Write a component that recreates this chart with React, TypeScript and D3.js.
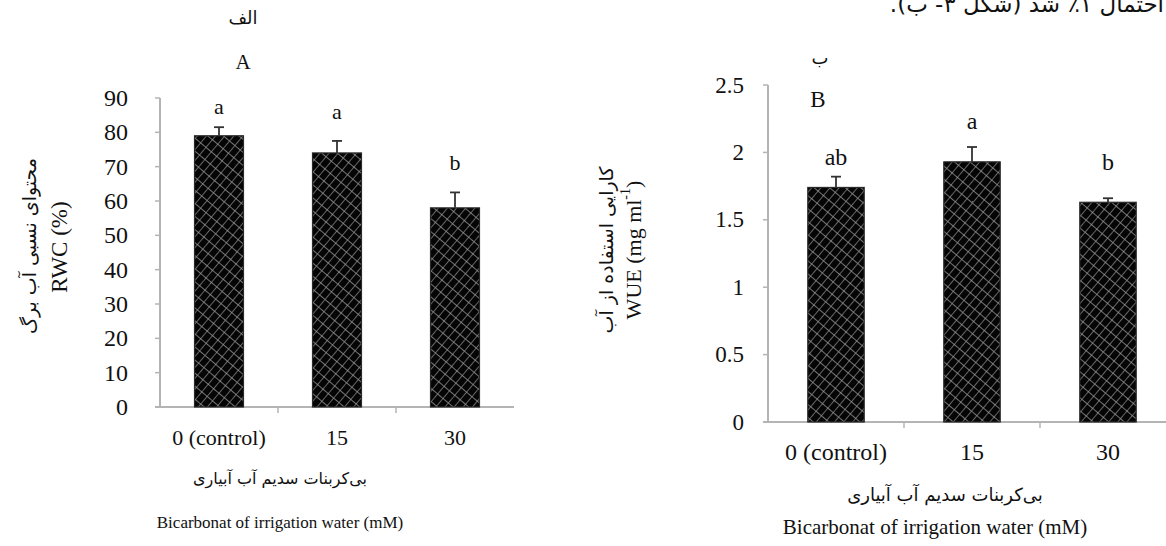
import React from "react";
import * as d3 from "d3";

const categories = ["0 (control)", "15", "30"];
const rwcValues = [79, 74, 58];
const rwcErrors = [2.5, 3.5, 4.5];
const rwcLetters = ["a", "a", "b"];
const rwcTicks = [0, 10, 20, 30, 40, 50, 60, 70, 80, 90];

const wueValues = [1.74, 1.93, 1.63];
const wueErrors = [0.08, 0.11, 0.03];
const wueLetters = ["ab", "a", "b"];
const wueTicks = [0, 0.5, 1, 1.5, 2, 2.5];

const serif = "'Liberation Serif', 'Times New Roman', serif";
const arabic = "'DejaVu Sans', sans-serif";
const axisColor = "#b4b4b4";

type PanelProps = {
  values: number[];
  errors: number[];
  letters: string[];
  ticks: number[];
  domainMax: number;
  xRange: [number, number];
  yRange: [number, number];
  tickFont: number;
  labelX: number;
  catY: number;
  catFont: number;
  letterFont: number;
  letterOffsets: number[];
};

function Panel(p: PanelProps) {
  const x = d3.scaleBand<string>().domain(categories).range(p.xRange).padding(0);
  const y = d3.scaleLinear().domain([0, p.domainMax]).range(p.yRange);
  const bw = x.bandwidth() * 0.415;
  const x0 = p.xRange[0];
  return (
    <g>
      <line x1={x0} x2={x0} y1={y(p.domainMax)} y2={y(0)} stroke={axisColor} strokeWidth={2} />
      {p.ticks.map((t) => (
        <g key={t}>
          <line x1={x0 - 5} x2={x0} y1={y(t)} y2={y(t)} stroke={axisColor} strokeWidth={1.5} />
          <text
            x={p.labelX}
            y={y(t)}
            textAnchor="end"
            dominantBaseline="central"
            fontFamily={serif}
            fontSize={p.tickFont}
            fill="#111"
          >
            {t}
          </text>
        </g>
      ))}
      <line x1={x0 - 5} x2={p.xRange[1]} y1={y(0)} y2={y(0)} stroke={axisColor} strokeWidth={2} />
      {categories.slice(1).map((c) => (
        <line
          key={c}
          x1={x(c)!}
          x2={x(c)!}
          y1={y(0)}
          y2={y(0) + 6}
          stroke={axisColor}
          strokeWidth={1.5}
        />
      ))}
      {categories.map((c, i) => {
        const cx = x(c)! + x.bandwidth() / 2;
        const top = y(p.values[i]);
        const errTop = y(p.values[i] + p.errors[i]);
        return (
          <g key={c}>
            <rect
              x={cx - bw / 2}
              y={top}
              width={bw}
              height={y(0) - top}
              fill="url(#weave)"
              stroke="#2a2a2a"
              strokeWidth={1.2}
            />
            <line x1={cx} x2={cx} y1={top} y2={errTop} stroke="#333" strokeWidth={1.8} />
            <line x1={cx - 5} x2={cx + 5} y1={errTop} y2={errTop} stroke="#333" strokeWidth={1.8} />
            <text
              x={cx}
              y={errTop - p.letterOffsets[i]}
              textAnchor="middle"
              fontFamily={serif}
              fontSize={p.letterFont}
              fill="#111"
            >
              {p.letters[i]}
            </text>
            <text
              x={cx}
              y={p.catY}
              textAnchor="middle"
              dominantBaseline="central"
              fontFamily={serif}
              fontSize={p.catFont}
              fill="#111"
            >
              {c}
            </text>
          </g>
        );
      })}
    </g>
  );
}

export default function App() {
  return (
    <svg
      width={1166}
      height={546}
      style={{ position: "absolute", left: 0, top: 0, background: "#fff" }}
    >
      <defs>
        <pattern
          id="weave"
          patternUnits="userSpaceOnUse"
          width={7}
          height={10}
          patternTransform="rotate(40)"
        >
          <rect width={7} height={10} fill="#050505" />
          <path d="M0 0 H7 M0 0 V10" stroke="#9a9a9a" strokeWidth={1.3} />
        </pattern>
      </defs>

      {/* text cut off at the top edge, as in the source page */}
      <text x={1164} y={12} textAnchor="start" direction="rtl" fontFamily={arabic} fontSize={23} fill="#111">
        احتمال ۱٪ شد (شکل ۳- ب).
      </text>

      {/* Panel A */}
      <text x={243} y={24} textAnchor="middle" fontFamily={arabic} fontSize={18} fill="#111">
        الف
      </text>
      <text x={243} y={69} textAnchor="middle" fontFamily={serif} fontSize={21} fill="#111">
        A
      </text>
      <text
        transform="translate(29,246) rotate(-90)"
        textAnchor="middle"
        dominantBaseline="central"
        fontFamily={arabic}
        fontSize={19}
        fill="#111"
      >
        محتوای نسبی آب برگ
      </text>
      <text
        transform="translate(59,247) rotate(-90)"
        textAnchor="middle"
        dominantBaseline="central"
        fontFamily={serif}
        fontSize={23}
        fill="#111"
      >
        RWC (%)
      </text>
      <Panel
        values={rwcValues}
        errors={rwcErrors}
        letters={rwcLetters}
        ticks={rwcTicks}
        domainMax={90}
        xRange={[160, 514]}
        yRange={[407, 98]}
        tickFont={24}
        labelX={128}
        catY={437}
        catFont={22}
        letterFont={22}
        letterOffsets={[13, 22, 22]}
      />
      <text x={280} y={484} textAnchor="middle" fontFamily={arabic} fontSize={16} fill="#111">
        بی‌کربنات سدیم آب آبیاری
      </text>
      <text x={280} y={528} textAnchor="middle" fontFamily={serif} fontSize={17} fill="#111">
        Bicarbonat of irrigation water (mM)
      </text>

      {/* Panel B */}
      <text x={820} y={64} textAnchor="middle" fontFamily={arabic} fontSize={18} fill="#111">
        ب
      </text>
      <text x={818} y={107} textAnchor="middle" fontFamily={serif} fontSize={23} fill="#111">
        B
      </text>
      <text
        transform="translate(606,250) rotate(-90)"
        textAnchor="middle"
        dominantBaseline="central"
        fontFamily={arabic}
        fontSize={19}
        fill="#111"
      >
        کارایی استفاده از آب
      </text>
      <text
        transform="translate(633,250) rotate(-90)"
        textAnchor="middle"
        dominantBaseline="central"
        fontFamily={serif}
        fontSize={22}
        fill="#111"
      >
        WUE (mg ml<tspan dy={-8} fontSize={14}>-1</tspan>
        <tspan dy={8}>)</tspan>
      </text>
      <Panel
        values={wueValues}
        errors={wueErrors}
        letters={wueLetters}
        ticks={wueTicks}
        domainMax={2.5}
        xRange={[768, 1176]}
        yRange={[422, 85]}
        tickFont={23}
        labelX={744}
        catY={452}
        catFont={24}
        letterFont={24}
        letterOffsets={[12, 18, 28]}
      />
      <text x={945} y={501} textAnchor="middle" fontFamily={arabic} fontSize={18} fill="#111">
        بی‌کربنات سدیم آب آبیاری
      </text>
      <text x={935} y={534} textAnchor="middle" fontFamily={serif} fontSize={21} fill="#111">
        Bicarbonat of irrigation water (mM)
      </text>
    </svg>
  );
}
